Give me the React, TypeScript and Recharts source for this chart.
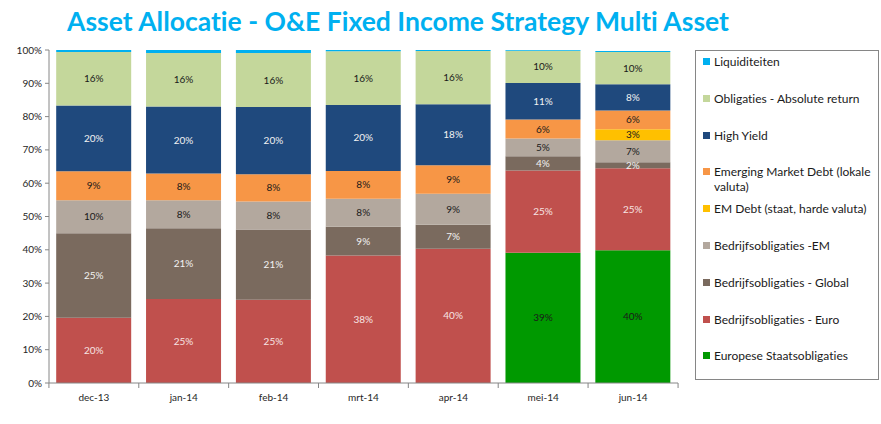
import { BarChart, Bar, XAxis, YAxis, LabelList } from 'recharts';

const months = ['dec-13', 'jan-14', 'feb-14', 'mrt-14', 'apr-14', 'mei-14', 'jun-14'];

// values in % of the portfolio
const liquiditeiten = [0.6, 0.9, 0.9, 0.4, 0.3, 0.3, 0.3];
const absoluteReturn = [16.1, 16.1, 16.2, 16.1, 16.0, 9.7, 9.7];
const highYield = [19.7, 20.1, 20.2, 19.8, 18.3, 11.0, 7.9];
const emdLokaal = [8.7, 8.0, 8.2, 8.4, 8.6, 5.7, 5.6];
const emdHard = [0, 0, 0, 0, 0, 0, 3.3];
const bedrijfEM = [9.9, 8.4, 8.4, 8.4, 9.3, 5.3, 6.6];
const bedrijfGlobal = [25.4, 21.3, 21.1, 8.6, 7.2, 4.3, 1.8];
const bedrijfEuro = [19.6, 25.2, 25.0, 38.3, 40.3, 24.7, 24.6];
const staats = [0, 0, 0, 0, 0, 39.1, 39.9];

const yTicks = [0, 10, 20, 30, 40, 50, 60, 70, 80, 90, 100];

// legend order (top to bottom); bars stack in reverse
const SERIES = [
  { key: 'liq', name: 'Liquiditeiten', values: liquiditeiten, color: '#00b0f0', text: '' },
  { key: 'ar', name: 'Obligaties - Absolute return', values: absoluteReturn, color: '#c4d79b', text: '#1a1a1a' },
  { key: 'hy', name: 'High Yield', values: highYield, color: '#1f497d', text: '#f2f2f2' },
  { key: 'emdl', name: 'Emerging Market Debt (lokale valuta)', values: emdLokaal, color: '#f79646', text: '#1a1a1a' },
  { key: 'emdh', name: 'EM Debt (staat, harde valuta)', values: emdHard, color: '#ffc000', text: '#1a1a1a' },
  { key: 'bem', name: 'Bedrijfsobligaties -EM', values: bedrijfEM, color: '#b3a89e', text: '#1a1a1a' },
  { key: 'bgl', name: 'Bedrijfsobligaties - Global', values: bedrijfGlobal, color: '#7a6a5e', text: '#f2f2f2' },
  { key: 'beu', name: 'Bedrijfsobligaties - Euro', values: bedrijfEuro, color: '#c0504d', text: '#f7e4e3' },
  { key: 'gov', name: 'Europese Staatsobligaties', values: staats, color: '#009900', text: '#1a1a1a' },
];

const data = months.map((m, i) => {
  const row: Record<string, string | number> = { month: m };
  SERIES.forEach((s) => { row[s.key] = s.values[i]; });
  return row;
});

const FONT = 'Lato, "Open Sans", sans-serif';
const HALF_BAND = 45;

function XTick({ x, y, payload, index }: any) {
  const axisY = y - 10;
  return (
    <g>
      <line x1={x - HALF_BAND} y1={axisY} x2={x - HALF_BAND} y2={axisY + 5} stroke="#868686" />
      {index === months.length - 1 && (
        <line x1={x + HALF_BAND} y1={axisY} x2={x + HALF_BAND} y2={axisY + 5} stroke="#868686" />
      )}
      <text x={x} y={y + 8} textAnchor="middle" fill="#262626" fontSize={10} fontFamily={FONT}>
        {payload.value}
      </text>
    </g>
  );
}

function LegendBox() {
  return (
    <div style={{ position: 'absolute', left: 695, top: 50, width: 184, height: 330, border: '1px solid #868686', boxSizing: 'border-box', fontFamily: FONT, fontSize: 12, color: '#1a1a1a' }}>
      {SERIES.map((s, i) => (
        <div key={s.key} style={{ position: 'absolute', left: 7, top: 3 + i * 36.8, width: 176, display: 'flex', lineHeight: '15px' }}>
          <span style={{ display: 'inline-block', width: 7, height: 7, marginTop: 4, marginRight: 4, background: s.color, flexShrink: 0 }} />
          <span>{s.name}</span>
        </div>
      ))}
    </div>
  );
}

const fmt = (v: any) => (Number(v) >= 1.5 ? `${Math.round(Number(v))}%` : '');

export default function App() {
  return (
    <div style={{ position: 'absolute', left: 0, top: 0, width: 881, height: 424, background: '#fff', fontVariantLigatures: 'none' }}>
      <div style={{ position: 'absolute', left: 0, top: 5, width: 796, textAlign: 'center', fontFamily: FONT, fontWeight: 700, fontSize: 26.5, color: '#00b0f0', whiteSpace: 'nowrap' }}>
        Asset Allocatie - O&amp;E Fixed Income Strategy Multi Asset
      </div>
      <BarChart width={881} height={424} data={data} margin={{ top: 50, right: 203, bottom: 11, left: 8 }} barCategoryGap="8%">
        <XAxis dataKey="month" height={30} tick={<XTick />} tickLine={false} tickSize={5} tickMargin={5} stroke="#868686" interval={0} />
        <YAxis
          width={41}
          domain={[0, 100]}
          ticks={yTicks}
          tickFormatter={(v) => `${v}%`}
          tick={{ fill: '#262626', fontSize: 10, fontFamily: FONT }}
          tickSize={4}
          tickMargin={3}
          stroke="#868686"
          allowDataOverflow
        />
        {[...SERIES].reverse().map((s) => (
          <Bar key={s.key} dataKey={s.key} name={s.name} stackId="a" fill={s.color} isAnimationActive={false}>
            {s.text && (
              <LabelList dataKey={s.key} position="center" formatter={fmt} fill={s.text} fontSize={10} fontFamily={FONT} />
            )}
          </Bar>
        ))}
      </BarChart>
      <LegendBox />
    </div>
  );
}
